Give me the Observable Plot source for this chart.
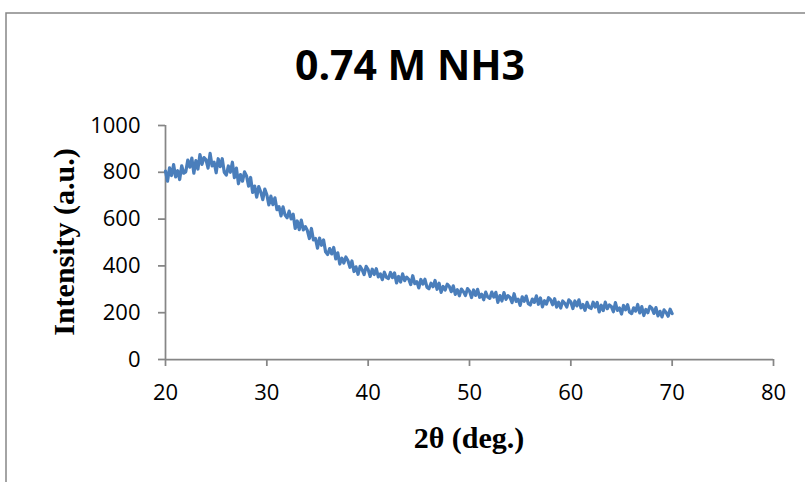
<!DOCTYPE html>
<html><head><meta charset="utf-8">
<script src="https://cdn.jsdelivr.net/npm/d3@7"></script>
<script src="https://cdn.jsdelivr.net/npm/@observablehq/plot@0.6"></script>
<style>html,body{margin:0;padding:0;background:#fff}svg{display:block}</style>
</head><body><div id="chart"></div>
<script>
const title = "0.74 M NH3";
const xLabel = "2θ (deg.)";
const yLabel = "Intensity (a.u.)";
const xTicks = [20, 30, 40, 50, 60, 70, 80];
const yTicks = [0, 200, 400, 600, 800, 1000];
const twoTheta = [
20.0,20.2,20.4,20.6,20.8,21.0,21.2,21.4,21.6,21.8,
22.0,22.2,22.4,22.6,22.8,23.0,23.2,23.4,23.6,23.8,
24.0,24.2,24.4,24.6,24.8,25.0,25.2,25.4,25.6,25.8,
26.0,26.2,26.4,26.6,26.8,27.0,27.2,27.4,27.6,27.8,
28.0,28.2,28.4,28.6,28.8,29.0,29.2,29.4,29.6,29.8,
30.0,30.2,30.4,30.6,30.8,31.0,31.2,31.4,31.6,31.8,
32.0,32.2,32.4,32.6,32.8,33.0,33.2,33.4,33.6,33.8,
34.0,34.2,34.4,34.6,34.8,35.0,35.2,35.4,35.6,35.8,
36.0,36.2,36.4,36.6,36.8,37.0,37.2,37.4,37.6,37.8,
38.0,38.2,38.4,38.6,38.8,39.0,39.2,39.4,39.6,39.8,
40.0,40.2,40.4,40.6,40.8,41.0,41.2,41.4,41.6,41.8,
42.0,42.2,42.4,42.6,42.8,43.0,43.2,43.4,43.6,43.8,
44.0,44.2,44.4,44.6,44.8,45.0,45.2,45.4,45.6,45.8,
46.0,46.2,46.4,46.6,46.8,47.0,47.2,47.4,47.6,47.8,
48.0,48.2,48.4,48.6,48.8,49.0,49.2,49.4,49.6,49.8,
50.0,50.2,50.4,50.6,50.8,51.0,51.2,51.4,51.6,51.8,
52.0,52.2,52.4,52.6,52.8,53.0,53.2,53.4,53.6,53.8,
54.0,54.2,54.4,54.6,54.8,55.0,55.2,55.4,55.6,55.8,
56.0,56.2,56.4,56.6,56.8,57.0,57.2,57.4,57.6,57.8,
58.0,58.2,58.4,58.6,58.8,59.0,59.2,59.4,59.6,59.8,
60.0,60.2,60.4,60.6,60.8,61.0,61.2,61.4,61.6,61.8,
62.0,62.2,62.4,62.6,62.8,63.0,63.2,63.4,63.6,63.8,
64.0,64.2,64.4,64.6,64.8,65.0,65.2,65.4,65.6,65.8,
66.0,66.2,66.4,66.6,66.8,67.0,67.2,67.4,67.6,67.8,
68.0,68.2,68.4,68.6,68.8,69.0,69.2,69.4,69.6,69.8,
70.0
];
const intensity = [
805,762,819,786,833,780,807,769,828,796,
802,852,822,861,796,850,814,876,834,863,
853,818,881,827,843,798,858,824,858,800,
788,827,800,843,777,818,751,790,762,802,
784,741,778,714,741,694,739,716,683,728,
704,661,698,662,691,640,653,614,652,617,
606,634,601,621,560,592,555,596,554,568,
551,517,560,511,517,476,519,488,511,460,
449,474,451,479,430,456,408,433,412,438,
423,394,421,376,396,364,398,384,363,398,
384,355,386,363,388,353,366,341,373,351,
346,372,350,370,327,355,331,366,337,352,
343,320,358,324,333,306,342,322,343,309,
302,326,311,338,300,326,287,312,297,322,
313,290,315,278,298,272,301,290,273,303,
293,265,297,274,300,266,279,255,288,267,
261,288,267,287,244,273,250,286,257,273,
265,243,281,248,258,231,268,249,271,239,
233,258,244,272,236,263,225,251,237,264,
256,234,260,224,245,220,250,240,224,255,
246,218,250,229,255,221,235,210,244,223,
218,245,224,244,203,232,209,245,217,233,
226,204,243,210,220,194,231,212,234,202,
196,221,207,235,199,226,188,214,200,227,
219,197,222,186,206,182,212,201,185,215,
196
];
const data = twoTheta.map((x, i) => ({x, y: intensity[i]}));

const W = 805, H = 482;
const axisGray = "#868686";
const lineBlue = "#4a7ebb";
const tickFont = "Open Sans, Lato, sans-serif";
const serif = "Liberation Serif, Times New Roman, serif";

const chart = Plot.plot({
  width: W, height: H,
  marginLeft: 165, marginRight: 32, marginTop: 125, marginBottom: 123,
  style: {background: "white", fontFamily: tickFont, fontSize: "22px", overflow: "visible"},
  x: {domain: [20, 80]},
  y: {domain: [0, 1000]},
  marks: [
    Plot.ruleY([0], {stroke: axisGray, strokeWidth: 1.75}),
    Plot.ruleX([20], {stroke: axisGray, strokeWidth: 1.75}),
    Plot.axisX(xTicks, {tickSize: 7, tickPadding: 18, stroke: axisGray, strokeWidth: 1.75, fill: "black",
      fontSize: 22, fontFamily: tickFont, label: null, tickFormat: d => String(d)}),
    Plot.axisY(yTicks, {tickSize: 7, tickPadding: 18, stroke: axisGray, strokeWidth: 1.75, fill: "black",
      fontSize: 22, fontFamily: tickFont, label: null, tickFormat: d => String(d)}),
    Plot.line(data, {x: "x", y: "y", stroke: lineBlue, strokeWidth: 3.2, strokeLinejoin: "round"})
  ]
});

const svg = d3.select(chart);
svg.append("rect")
  .attr("x", 6).attr("y", 13).attr("width", W + 20).attr("height", H + 20)
  .attr("fill", "none").attr("stroke", axisGray).attr("stroke-width", 1.5);
svg.append("text")
  .attr("x", 410).attr("y", 80).attr("text-anchor", "middle")
  .attr("font-family", tickFont).attr("font-weight", "bold").attr("font-size", 41)
  .attr("fill", "black").text(title);
svg.append("text")
  .attr("x", 469).attr("y", 448).attr("text-anchor", "middle")
  .attr("font-family", serif).attr("font-weight", "bold").attr("font-size", 30)
  .attr("fill", "black").text(xLabel);
svg.append("text")
  .attr("transform", "translate(74,242) rotate(-90)").attr("text-anchor", "middle")
  .attr("font-family", serif).attr("font-weight", "bold").attr("font-size", 30)
  .attr("fill", "black").text(yLabel);

document.getElementById("chart").appendChild(chart);
</script>
</body></html>
